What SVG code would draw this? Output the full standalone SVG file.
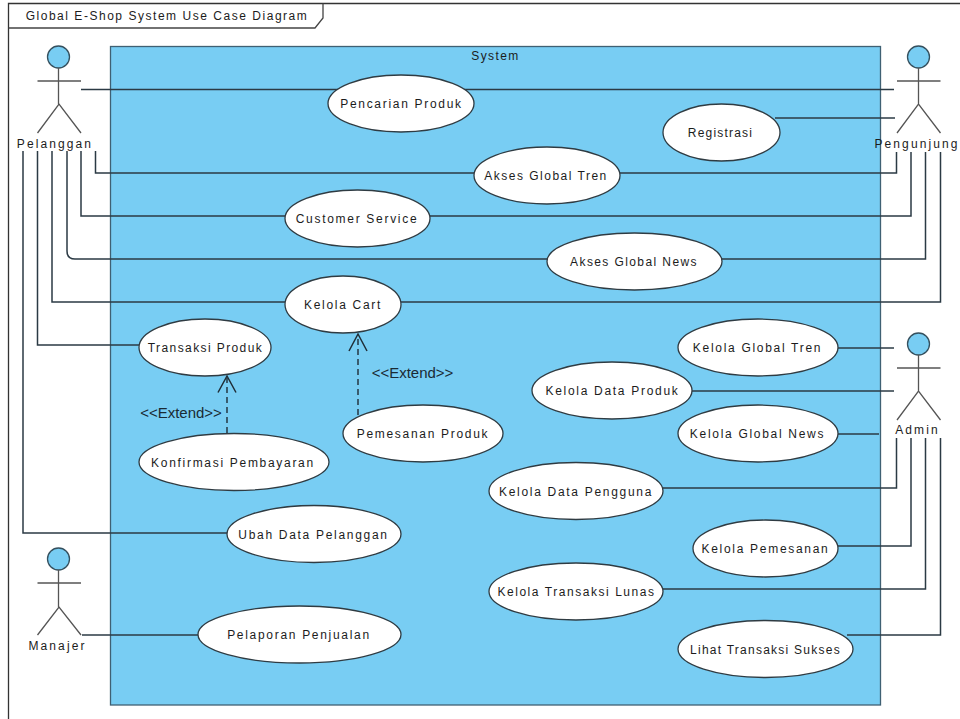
<svg xmlns="http://www.w3.org/2000/svg" width="960" height="719" viewBox="0 0 960 719">
<style>
text{font-family:"Liberation Sans",Arial,sans-serif;font-size:12px;fill:#1c1c1c;letter-spacing:1.7px;text-anchor:middle;dominant-baseline:central}
.uc{fill:#fff;stroke:#2f3b42;stroke-width:1.3}
.head{fill:#78cdf3;stroke:#35505e;stroke-width:1.3}
.stick{fill:none;stroke:#555;stroke-width:1.3}
.ln{fill:none;stroke:#2b3a44;stroke-width:1.5}
.dash{fill:none;stroke:#1f2d36;stroke-width:1.4;stroke-dasharray:6 4}
.ah{fill:none;stroke:#1f2d36;stroke-width:1.5}
.st{font-size:15px;letter-spacing:0;fill:#1a2a34}
.al{letter-spacing:2.1px}
</style>
<rect width="960" height="719" fill="#fff"/>
<g id="frame">
<path d="M8.500 719V3.500H960" fill="none" stroke="#333" stroke-width="1.300"/>
<path d="M8.500 28H315L323 18V3.500" fill="none" stroke="#444" stroke-width="1.300"/>
<text x="167" y="15.500" style="letter-spacing:1.530px">Global E-Shop System Use Case Diagram</text>
</g>
<g id="system">
<rect x="110.500" y="46.500" width="770" height="658.500" fill="#78cdf3" stroke="#3f6073" stroke-width="1.300"/>
<text x="495.500" y="56" style="letter-spacing:1.400px">System</text>
</g>
<g id="connectors">
<path class="ln" d="M81 89.500H894"/>
<path class="ln" d="M95.500 151V173H896.500V152"/>
<path class="ln" d="M81 151V216H911V152"/>
<path class="ln" d="M67 151V251Q67 259 75 259H925.500V152"/>
<path class="ln" d="M52 151V302H940.500V152"/>
<path class="ln" d="M37.500 151V345H140"/>
<path class="ln" d="M23 151V533H228"/>
<path class="ln" d="M775 118H895"/>
<path class="ln" d="M838 348H894"/>
<path class="ln" d="M692 391H894"/>
<path class="ln" d="M838 434H879"/>
<path class="ln" d="M663 488H896.500V438"/>
<path class="ln" d="M838 546H911V438"/>
<path class="ln" d="M663 589H925.500V438"/>
<path class="ln" d="M847 635H940.500V438"/>
<path class="ln" d="M82 635H198"/>
<path class="dash" d="M227 433V378"/>
<path class="ah" d="M218 392.500L227 376L236 392.500"/>
<path class="dash" d="M358 415V335"/>
<path class="ah" d="M349 351L358 334L367 351"/>
</g>
<g id="actor-pelanggan"><circle class="head" cx="58.500" cy="57" r="11"/><path class="stick" d="M58.500 68V104M37.500 81H81M37.500 133L59 104L81 133"/><text class="al" x="55" y="143.500">Pelanggan</text></g>
<g id="actor-pengunjung"><circle class="head" cx="918.500" cy="57" r="11"/><path class="stick" d="M918.500 68V104M897 81H940.500M897 133L918.500 104L940.500 133"/><text class="al" x="917" y="143.500">Pengunjung</text></g>
<g id="actor-admin"><circle class="head" cx="918.500" cy="344" r="11"/><path class="stick" d="M918.500 355V391M897 368H940.500M897 420L918.500 391L940.500 420"/><text class="al" x="917.500" y="430">Admin</text></g>
<g id="actor-manajer"><circle class="head" cx="58.500" cy="559" r="11"/><path class="stick" d="M58.500 570V607M37.500 583H81M37.500 635L59 607L81 635"/><text class="al" x="57.500" y="645.500">Manajer</text></g>
<g id="uc-pencarian"><ellipse class="uc" cx="401" cy="103.500" rx="73" ry="28.500"/><text x="401.500" y="104">Pencarian Produk</text></g>
<g id="uc-registrasi"><ellipse class="uc" cx="721.500" cy="132.500" rx="58.500" ry="28.500"/><text x="720.500" y="133" style="letter-spacing:1.2px">Registrasi</text></g>
<g id="uc-tren"><ellipse class="uc" cx="547" cy="175.500" rx="73" ry="28.500"/><text x="546" y="176" style="letter-spacing:1.5px">Akses Global Tren</text></g>
<g id="uc-cs"><ellipse class="uc" cx="357.500" cy="218.500" rx="72.500" ry="28.500"/><text x="357" y="219">Customer Service</text></g>
<g id="uc-news"><ellipse class="uc" cx="634.500" cy="261.500" rx="87.500" ry="28.500"/><text x="634" y="262" style="letter-spacing:1.4px">Akses Global News</text></g>
<g id="uc-cart"><ellipse class="uc" cx="343" cy="304.500" rx="58" ry="28.500"/><text x="343" y="305">Kelola Cart</text></g>
<g id="uc-transaksi"><ellipse class="uc" cx="205" cy="347.500" rx="66" ry="28.500"/><text x="205.500" y="348" style="letter-spacing:1.4px">Transaksi Produk</text></g>
<g id="uc-pemesanan-produk"><ellipse class="uc" cx="423" cy="433.500" rx="80" ry="28.500"/><text x="423" y="434">Pemesanan Produk</text></g>
<g id="uc-konfirmasi"><ellipse class="uc" cx="234" cy="462" rx="95" ry="28.500"/><text x="233" y="463">Konfirmasi Pembayaran</text></g>
<g id="uc-ubah"><ellipse class="uc" cx="314" cy="534" rx="87" ry="28.500"/><text x="313.500" y="535">Ubah Data Pelanggan</text></g>
<g id="uc-pelaporan"><ellipse class="uc" cx="299.500" cy="634.500" rx="101.500" ry="28.500"/><text x="299" y="635">Pelaporan Penjualan</text></g>
<g id="uc-kelola-tren"><ellipse class="uc" cx="758" cy="347.500" rx="80" ry="28.500"/><text x="757.500" y="348">Kelola Global Tren</text></g>
<g id="uc-kelola-produk"><ellipse class="uc" cx="612" cy="390.500" rx="80" ry="28.500"/><text x="612.500" y="391">Kelola Data Produk</text></g>
<g id="uc-kelola-news"><ellipse class="uc" cx="758" cy="433.500" rx="80" ry="28.500"/><text x="757.500" y="434">Kelola Global News</text></g>
<g id="uc-kelola-pengguna"><ellipse class="uc" cx="576" cy="491" rx="87" ry="28.500"/><text x="576" y="492">Kelola Data Pengguna</text></g>
<g id="uc-kelola-pemesanan"><ellipse class="uc" cx="765.500" cy="548.500" rx="72.500" ry="28.500"/><text x="765.500" y="549">Kelola Pemesanan</text></g>
<g id="uc-kelola-lunas"><ellipse class="uc" cx="576" cy="591.500" rx="87" ry="28.500"/><text x="576.500" y="592" style="letter-spacing:1.55px">Kelola Transaksi Lunas</text></g>
<g id="uc-lihat"><ellipse class="uc" cx="765.500" cy="649" rx="87.500" ry="28.500"/><text x="765.500" y="650" style="letter-spacing:1.25px">Lihat Transaksi Sukses</text></g>
<text class="st" x="181" y="412.500">&lt;&lt;Extend&gt;&gt;</text>
<text class="st" x="412.500" y="372.500">&lt;&lt;Extend&gt;&gt;</text>
</svg>
